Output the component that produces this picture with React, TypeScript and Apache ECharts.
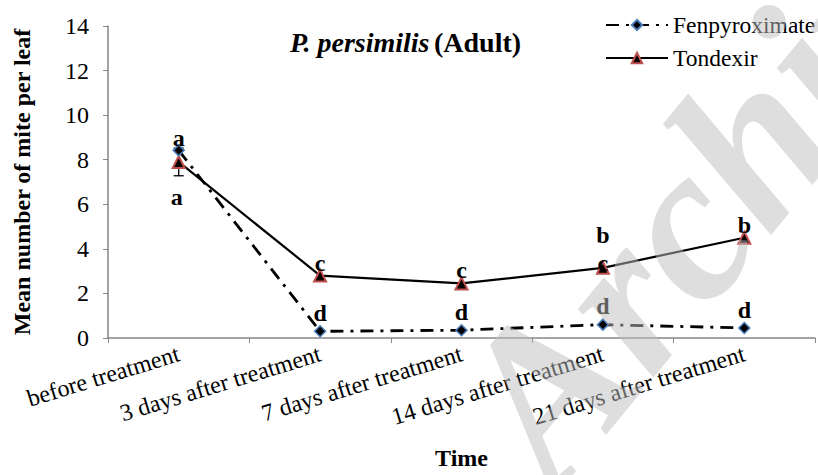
import React, { useEffect, useRef } from "react";
import * as echarts from "echarts";

const categories = [
  "before treatment",
  "3 days after treatment",
  "7 days after treatment",
  "14 days after treatment",
  "21 days after treatment",
];
const fenValues = [8.42, 0.3, 0.35, 0.6, 0.45];
const tonValues = [7.9, 2.8, 2.45, 3.15, 4.5];
const tonErrors = [0.62, 0, 0, 0, 0];
const fenLetters = ["a", "d", "d", "d", "d"];
const tonLetters = ["a", "c", "c", "c", "b"];
const extraLetters = [
  { category: "14 days after treatment", value: 3.15, letter: "b" },
];
const yTicks = { min: 0, max: 14, interval: 2 };

const SERIF = "Liberation Serif";

export default function App() {
  const ref = useRef<HTMLDivElement>(null);
  useEffect(() => {
    document.body.style.margin = "0";
    if (!ref.current) return;
    const chart = echarts.init(ref.current, null, { renderer: "svg" });
    const letterStyle = {
      fontFamily: SERIF,
      fontWeight: "bold",
      fontSize: 24,
      color: "#000",
    };
    const tonLabel = (i: number) => {
      if (i === 0) return { position: "bottom", distance: 16, offset: [-2, 0] };
      if (i === 3) return { position: "inside", distance: 0, offset: [0, -5] };
      return { position: "top", distance: -6, offset: [0, 0] };
    };
    const option: any = {
      animation: false,
      backgroundColor: "#fff",
      textStyle: { fontFamily: SERIF },
      title: {
        text: "{i|P. persimilis} {b|(Adult)}",
        left: 285,
        top: 23,
        textStyle: {
          fontFamily: SERIF,
          rich: {
            i: { fontFamily: SERIF, fontStyle: "italic", fontWeight: "bold", fontSize: 28, color: "#000" },
            b: { fontFamily: SERIF, fontWeight: "bold", fontSize: 28, color: "#000" },
          },
        },
      },
      legend: {
        orient: "vertical",
        left: 600,
        top: 8,
        itemWidth: 62,
        itemHeight: 13,
        itemGap: 9,
        textStyle: { fontFamily: SERIF, fontSize: 23.5, color: "#000" },
        data: ["Fenpyroximate", "Tondexir"],
      },
      grid: { left: 108, right: 3, top: 26, height: 316, containLabel: false },
      xAxis: {
        type: "category",
        data: categories,
        boundaryGap: true,
        axisLine: { lineStyle: { color: "#868686", width: 1.5 } },
        axisTick: { show: true, length: 5, lineStyle: { color: "#868686" } },
        axisLabel: {
          rotate: 17,
          interval: 0,
          fontFamily: SERIF,
          fontSize: 24,
          color: "#000",
          margin: 15,
        },
        name: "Time",
        nameLocation: "middle",
        nameGap: 108,
        nameTextStyle: { fontFamily: SERIF, fontWeight: "bold", fontSize: 24, color: "#000" },
      },
      yAxis: {
        type: "value",
        min: yTicks.min,
        max: yTicks.max,
        interval: yTicks.interval,
        splitLine: { show: false },
        axisLine: { show: true, lineStyle: { color: "#868686", width: 1.5 } },
        axisTick: { show: true, length: 5, lineStyle: { color: "#868686" } },
        axisLabel: { fontFamily: SERIF, fontSize: 24, color: "#000", margin: 19 },
        name: "Mean number of mite per leaf",
        nameLocation: "middle",
        nameGap: 74,
        nameTextStyle: { fontFamily: SERIF, fontWeight: "bold", fontSize: 24, color: "#000" },
      },
      series: [
        {
          name: "Tondexir",
          type: "line",
          z: 3,
          data: tonValues.map((v, i) => ({
            value: v,
            label: { show: true, formatter: tonLetters[i], ...tonLabel(i), ...letterStyle },
          })),
          symbol: "triangle",
          symbolSize: 12,
          itemStyle: { color: "#000", borderColor: "#c0504d", borderWidth: 2 },
          lineStyle: { color: "#000", width: 2.2 },
          markPoint: {
            symbol: "circle",
            symbolSize: 0,
            data: extraLetters.map((e) => ({
              coord: [e.category, e.value],
              value: e.letter,
              label: { show: true, formatter: e.letter, offset: [0, -33], ...letterStyle },
            })),
          },
        },
        {
          name: "Fenpyroximate",
          type: "line",
          z: 4,
          data: fenValues.map((v, i) => ({
            value: v,
            label: {
              show: true,
              formatter: fenLetters[i],
              position: "top",
              distance: i === 0 ? -6 : 0,
              ...letterStyle,
            },
          })),
          symbol: "diamond",
          symbolSize: 11,
          itemStyle: { color: "#000", borderColor: "#4a7ebb", borderWidth: 1.5 },
          lineStyle: { color: "#000", width: 2.8, type: [13, 7, 3, 7] },
        },
        {
          name: "err",
          type: "custom",
          z: 2,
          data: tonValues.map((v, i) => [i, v - tonErrors[i], v + tonErrors[i], tonErrors[i]]),
          renderItem: (params: any, api: any) => {
            if (api.value(3) === 0) return null;
            const lo = api.coord([api.value(0), api.value(1)]);
            const hi = api.coord([api.value(0), api.value(2)]);
            const w = 5;
            const st = { stroke: "#000", lineWidth: 1.3 };
            return {
              type: "group",
              children: [
                { type: "line", shape: { x1: lo[0], y1: lo[1], x2: hi[0], y2: hi[1] }, style: st },
                { type: "line", shape: { x1: lo[0] - w, y1: lo[1], x2: lo[0] + w, y2: lo[1] }, style: st },
                { type: "line", shape: { x1: hi[0] - w, y1: hi[1], x2: hi[0] + w, y2: hi[1] }, style: st },
              ],
            };
          },
        },
      ],
      graphic: [
        {
          type: "text",
          x: 584,
          y: 518,
          rotation: 0.88,
          z: 100,
          silent: true,
          style: {
            text: "Archive",
            font: "italic bold 222px Liberation Serif",
            fill: "rgba(190,190,190,0.5)",
            textAlign: "left",
            textVerticalAlign: "bottom",
          },
        },
      ],
    };
    chart.setOption(option);
    return () => chart.dispose();
  }, []);
  return <div ref={ref} style={{ width: 818, height: 475 }} />;
}
